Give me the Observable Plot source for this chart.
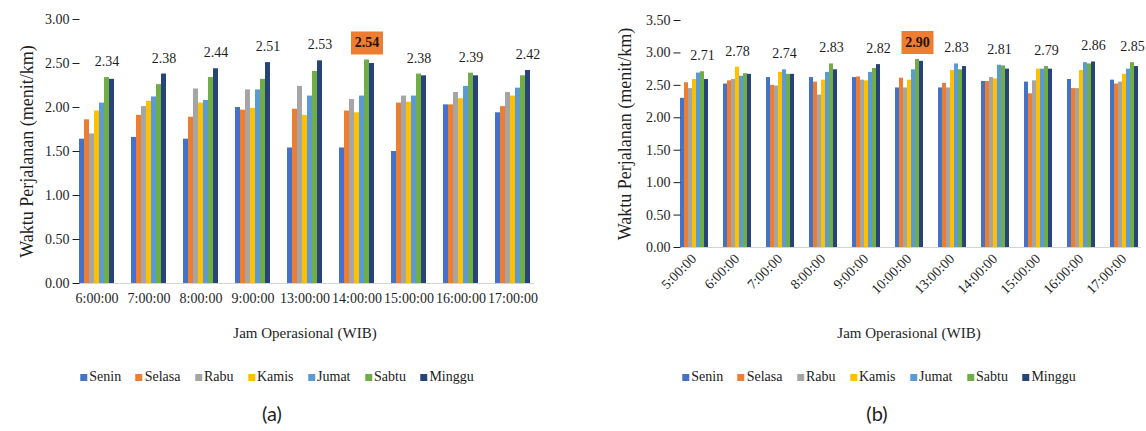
<!DOCTYPE html>
<html>
<head>
<meta charset="utf-8">
<script src="https://cdn.jsdelivr.net/npm/d3@7"></script>
<script src="https://cdn.jsdelivr.net/npm/@observablehq/plot@0.6"></script>
<style>
  html, body { margin: 0; padding: 0; background: #fff; }
  #wrap { position: relative; width: 1146px; height: 431px; overflow: hidden; }
  .panel { position: absolute; top: 0; }
  .legend { position: absolute; display: flex; align-items: center; gap: 14.5px;
            transform: translate(-50%, -50%); white-space: nowrap;
            font-family: "Liberation Serif", "Times New Roman", "DejaVu Serif", serif; font-size: 14px; color: #222; }
  .legend span.item { display: inline-flex; align-items: center; }
  .legend i { display: inline-block; width: 7px; height: 7px; margin-right: 2px; }
  .caption { position: absolute; transform: translate(-50%, -50%);
             font-family: Lato, "Open Sans", sans-serif; font-size: 20px; color: #222; }
</style>
</head>
<body>
<div id="wrap"></div>
<script>
// Days of the week (series) and their colours
const days = ["Senin", "Selasa", "Rabu", "Kamis", "Jumat", "Sabtu", "Minggu"];
const dayColors = ["#4472C4", "#ED7D31", "#A5A5A5", "#FFC000", "#5B9BD5", "#70AD47", "#264478"];

// (a) operating hours and travel time per day (menit/km)
const timesA = ["6:00:00", "7:00:00", "8:00:00", "9:00:00", "13:00:00", "14:00:00", "15:00:00", "16:00:00", "17:00:00"];
const seninA  = [1.64, 1.66, 1.64, 2.00, 1.54, 1.54, 1.50, 2.03, 1.94];
const selasaA = [1.86, 1.91, 1.89, 1.97, 1.98, 1.96, 2.05, 2.03, 2.01];
const rabuA   = [1.70, 2.01, 2.21, 2.20, 2.24, 2.09, 2.13, 2.17, 2.17];
const kamisA  = [1.96, 2.07, 2.05, 1.99, 1.91, 1.94, 2.06, 2.10, 2.13];
const jumatA  = [2.05, 2.12, 2.08, 2.20, 2.13, 2.13, 2.13, 2.24, 2.22];
const sabtuA  = [2.34, 2.26, 2.34, 2.32, 2.41, 2.54, 2.38, 2.39, 2.36];
const mingguA = [2.32, 2.38, 2.44, 2.51, 2.53, 2.50, 2.36, 2.36, 2.42];
const yTicksA = [0, 0.5, 1, 1.5, 2, 2.5, 3];

// (b) operating hours and travel time per day (menit/km)
const timesB = ["5:00:00", "6:00:00", "7:00:00", "8:00:00", "9:00:00", "10:00:00", "13:00:00", "14:00:00", "15:00:00", "16:00:00", "17:00:00"];
const seninB  = [2.30, 2.52, 2.62, 2.62, 2.62, 2.46, 2.46, 2.56, 2.55, 2.59, 2.58];
const selasaB = [2.54, 2.57, 2.50, 2.55, 2.63, 2.61, 2.53, 2.56, 2.37, 2.45, 2.52];
const rabuB   = [2.45, 2.59, 2.49, 2.35, 2.58, 2.46, 2.46, 2.62, 2.57, 2.45, 2.55];
const kamisB  = [2.59, 2.78, 2.70, 2.58, 2.57, 2.58, 2.73, 2.60, 2.75, 2.73, 2.67];
const jumatB  = [2.69, 2.64, 2.74, 2.70, 2.70, 2.74, 2.83, 2.81, 2.75, 2.85, 2.75];
const sabtuB  = [2.71, 2.68, 2.67, 2.83, 2.76, 2.90, 2.74, 2.80, 2.79, 2.83, 2.85];
const mingguB = [2.59, 2.67, 2.67, 2.74, 2.82, 2.87, 2.79, 2.75, 2.75, 2.86, 2.79];
const yTicksB = [0, 0.5, 1, 1.5, 2, 2.5, 3, 3.5];

const yTitle = "Waktu Perjalanan (menit/km)";
const xTitle = "Jam Operasional (WIB)";
const ink = "#1e1e1e";
const serif = "'Liberation Serif', 'Times New Roman', 'DejaVu Serif', serif";

// Rectangular badge behind the highest value label
const badge = { draw(context) { context.rect(-16, -11.5, 32, 23); } };

function groupedBars({times, series, yTicks, marginLeft, marginRight, marginTop, marginBottom,
                      padInner, padOuter, rotate, xTitleDy, yTitleDx}) {
  const rows = times.flatMap((t, i) => days.map((d, j) => ({time: t, day: d, value: series[j][i]})));
  const peaks = times.map(t => d3.greatest(rows.filter(r => r.time === t), r => r.value));
  const top = d3.greatest(peaks, r => r.value);
  const fmt = v => v.toFixed(2);
  return Plot.plot({
    width: 573,
    height: 350,
    marginLeft, marginRight, marginTop, marginBottom,
    style: {fontFamily: serif, fontSize: "14px", color: ink, background: "transparent"},
    fx: {domain: times, paddingInner: padInner, paddingOuter: padOuter, label: null},
    x: {domain: days, axis: null, padding: 0},
    y: {domain: [0, d3.max(yTicks)]},
    color: {domain: days, range: dayColors},
    marks: [
      // light baseline along the bottom of the whole frame
      Plot.frame({anchor: "bottom", stroke: "#d4d4d4", strokeWidth: 1.2, facet: "super"}),
      Plot.barY(rows, {fx: "time", x: "day", y: "value", fill: "day", inset: 0}),
      Plot.axisY({ticks: yTicks, tickFormat: fmt, tickSize: 0, tickPadding: 7, line: true,
                  label: null, stroke: ink, fill: ink, fontSize: 14, fontFamily: serif}),
      Plot.axisY({ticks: yTicks, tickFormat: () => "", tickSize: 7, dx: 3.5, label: null, stroke: ink}),
      Plot.axisFx({anchor: "bottom", tickSize: 0, tickPadding: rotate ? 9 : 10, tickRotate: rotate ? -45 : 0,
                   label: null, fill: ink, fontSize: 14, fontFamily: serif}),
      Plot.text(peaks.filter(p => p !== top), {fx: "time", x: "day", y: "value", text: d => fmt(d.value),
                dy: -16, fontSize: 14, fill: ink, fontFamily: serif}),
      Plot.dot([top], {fx: "time", x: "day", y: "value", symbol: badge, fill: "#ED7D31", stroke: null, dy: -17}),
      Plot.text([top], {fx: "time", x: "day", y: "value", text: d => fmt(d.value),
                dy: -17, fontSize: 14, fontWeight: "bold", fill: "#2a1205", fontFamily: serif}),
      Plot.text([yTitle], {frameAnchor: "left", textAnchor: "middle", rotate: -90, dx: -yTitleDx,
                fontSize: 18, fill: ink, fontFamily: serif, facet: "super"}),
      Plot.text([xTitle], {frameAnchor: "bottom", textAnchor: "middle", dy: xTitleDy,
                fontSize: 15, fill: ink, fontFamily: serif, facet: "super"})
    ]
  });
}

function legend(cx, cy) {
  const el = document.createElement("div");
  el.className = "legend";
  el.style.left = cx + "px";
  el.style.top = cy + "px";
  days.forEach((d, i) => {
    const item = document.createElement("span");
    item.className = "item";
    const sw = document.createElement("i");
    sw.style.background = dayColors[i];
    item.appendChild(sw);
    item.appendChild(document.createTextNode(d));
    el.appendChild(item);
  });
  return el;
}

function caption(text, cx, cy) {
  const el = document.createElement("div");
  el.className = "caption";
  el.style.left = cx + "px";
  el.style.top = cy + "px";
  el.textContent = text;
  return el;
}

const wrap = document.getElementById("wrap");

const chartA = groupedBars({
  times: timesA,
  series: [seninA, selasaA, rabuA, kamisA, jumatA, sabtuA, mingguA],
  yTicks: yTicksA,
  marginLeft: 68, marginRight: 32, marginTop: 19, marginBottom: 67,
  padInner: 0.22, padOuter: 0.115, rotate: false, xTitleDy: 54, yTitleDx: 49
});
chartA.classList.add("panel");
chartA.style.left = "0px";
wrap.appendChild(chartA);

const chartB = groupedBars({
  times: timesB,
  series: [seninB, selasaB, rabuB, kamisB, jumatB, sabtuB, mingguB],
  yTicks: yTicksB,
  marginLeft: 97, marginRight: 0, marginTop: 20, marginBottom: 103,
  padInner: 0.24, padOuter: 0.12, rotate: true, xTitleDy: 90, yTitleDx: 52
});
chartB.classList.add("panel");
chartB.style.left = "573px";
wrap.appendChild(chartB);

wrap.appendChild(legend(277, 377));
wrap.appendChild(legend(879, 377));
wrap.appendChild(caption("(a)", 272, 413));
wrap.appendChild(caption("(b)", 877, 413));
</script>
</body>
</html>
